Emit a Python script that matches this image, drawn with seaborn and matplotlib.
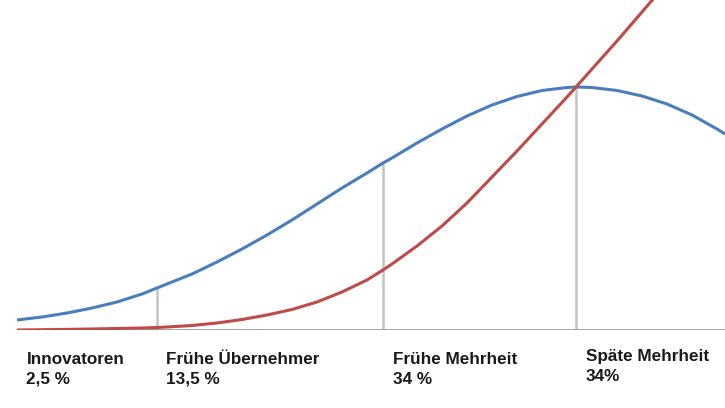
import pandas as pd
import seaborn as sns
import matplotlib.pyplot as plt

# Zeitachse (willkürliche Einheiten) und Kurvenwerte
zeit = [0, 2.5, 5, 7.5, 10, 12.5, 14, 15, 17.5, 20, 22.5, 25, 27.5, 30, 32.5, 35,
        36.6, 37.5, 40, 42.5, 45, 47.5, 50, 52.5, 55, 55.9, 57.5, 60, 62.5, 65,
        67.5, 70, 70.8]
adoption = [1.0, 1.3, 1.7, 2.2, 2.8, 3.6, 4.2, 4.6, 5.6, 6.8, 8.1, 9.5, 11.0, 12.6,
            14.2, 15.7, 16.7, 17.2, 18.7, 20.1, 21.4, 22.5, 23.35, 23.95, 24.25, 24.3,
            24.25, 23.95, 23.4, 22.6, 21.5, 20.1, 19.6]
kumuliert = [0, 0.03, 0.06, 0.1, 0.15, 0.2, 0.25, 0.3, 0.45, 0.7, 1.05, 1.5, 2.05, 2.8,
             3.8, 5.0, 6.0, 6.6, 8.4, 10.4, 12.7, 15.3, 17.9, 20.6, 23.3, 24.3,
             26.1, 28.9, 31.8, 34.7]

# Gruppengrenzen und Beschriftungen
grenzen = [14, 36.6, 55.9]
gruppen = ["Innovatoren", "Frühe Übernehmer", "Frühe Mehrheit", "Späte Mehrheit"]
anteile = ["2,5 %", "13,5 %", "34 %", "34%"]
label_x = [0, 14, 36.6, 55.9]

df = pd.concat([
    pd.DataFrame({"zeit": zeit, "wert": adoption, "kurve": "Adoption"}),
    pd.DataFrame({"zeit": zeit[:len(kumuliert)], "wert": kumuliert, "kurve": "Kumuliert"}),
])

sns.set_style("white")
plt.rcParams["font.family"] = ["Liberation Sans", "DejaVu Sans"]

fig = plt.figure(figsize=(7.25, 4.08), dpi=100)
ax = fig.add_axes([17 / 725, 78 / 408, 708 / 725, 330 / 408])

# Senkrechte Linien bis zur Glockenkurve
for g in grenzen:
    h = adoption[zeit.index(g)]
    ax.vlines(g, 0, h, color="#c4c4c4", lw=1.8, zorder=1)

ax.axhline(0, color="#8a8a8a", lw=1.1, zorder=1)

sns.lineplot(data=df, x="zeit", y="wert", hue="kurve", sort=False,
             palette={"Adoption": "#4a7ebb", "Kumuliert": "#be4b48"},
             lw=2.2, legend=False, ax=ax, zorder=2,
             solid_joinstyle="round", solid_capstyle="butt")

ax.set_xlim(0, 70.8)
ax.set_ylim(0, 33.0)
ax.set_xlabel("")
ax.set_ylabel("")
ax.set_xticks([])
ax.set_yticks([])
sns.despine(ax=ax, left=True, bottom=True)

for x, name, anteil in zip(label_x, gruppen, anteile):
    dy = 0.3 if name == "Späte Mehrheit" else 0
    ax.text(x + 0.95, -3.4 + dy, name, fontsize=12.3, fontweight="bold",
            color="#1a1a1a", va="baseline", ha="left", clip_on=False)
    ax.text(x + 0.95, -5.4 + dy, anteil, fontsize=12.3, fontweight="bold",
            color="#1a1a1a", va="baseline", ha="left", clip_on=False)

fig.savefig("out.png", dpi=100)
